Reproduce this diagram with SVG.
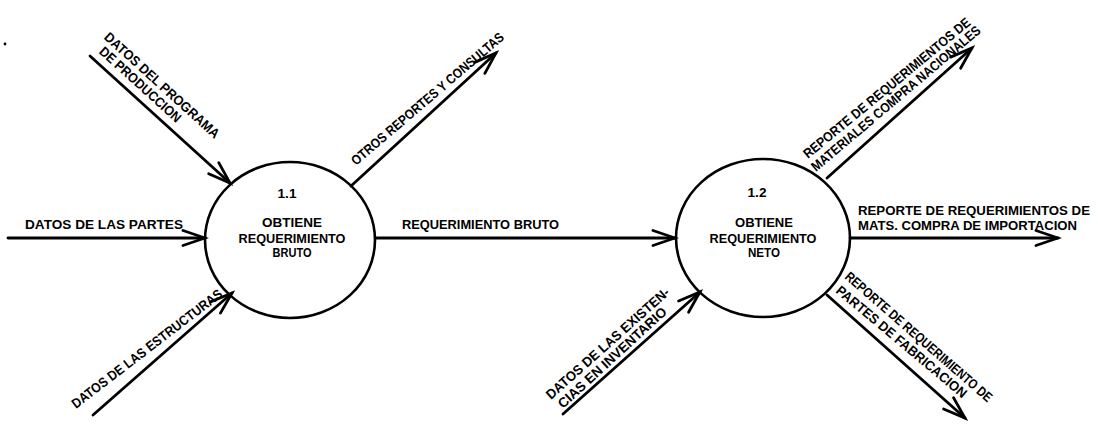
<svg xmlns="http://www.w3.org/2000/svg" width="1098" height="426" viewBox="0 0 1098 426">
  <style>
    .bg { fill: #ffffff; }
    .proc { fill: none; stroke: #000; stroke-width: 2.6; }
    .flow { fill: none; stroke: #000; stroke-width: 2.8; stroke-linecap: round; marker-end: url(#arrow); }
    text { font-family: "Liberation Sans", Arial, sans-serif; font-size: 13.6px; font-weight: bold; fill: #000; }
    .c { text-anchor: middle; }
  </style>
  <defs>
    <marker id="arrow" markerUnits="userSpaceOnUse" markerWidth="30" markerHeight="24" viewBox="-26 -12 30 24" refX="0" refY="0" orient="auto">
      <path d="M -22 -7.5 L 0 0 L -22 7.5" fill="none" stroke="#000" stroke-width="2.8" stroke-linecap="round" stroke-linejoin="miter"/>
    </marker>
  </defs>
  <rect class="bg" x="0" y="0" width="1098" height="426"/>
  <circle cx="5" cy="44" r="1.4" fill="#000"/>

  <g id="connectors">
    <g id="f-partes">
      <line class="flow" x1="8" y1="238" x2="205" y2="238"/>
      <text x="25" y="229" textLength="158" lengthAdjust="spacingAndGlyphs">DATOS DE LAS PARTES</text>
    </g>
    <g id="f-bruto">
      <line class="flow" x1="376" y1="238" x2="675" y2="238"/>
      <text x="402" y="229" textLength="157" lengthAdjust="spacingAndGlyphs">REQUERIMIENTO BRUTO</text>
    </g>
    <g id="f-importacion">
      <line class="flow" x1="850" y1="238" x2="1058" y2="238"/>
      <text x="858" y="215" textLength="232" lengthAdjust="spacingAndGlyphs">REPORTE DE REQUERIMIENTOS DE</text>
      <text x="858" y="230" textLength="219" lengthAdjust="spacingAndGlyphs">MATS. COMPRA DE IMPORTACION</text>
    </g>
    <g id="f-programa">
      <line class="flow" x1="90" y1="56" x2="230" y2="183"/>
      <g transform="translate(90,56) rotate(42.2)">
        <text x="-2" y="-22" textLength="150" lengthAdjust="spacingAndGlyphs">DATOS DEL PROGRAMA</text>
        <text x="4" y="-8" textLength="105" lengthAdjust="spacingAndGlyphs">DE PRODUCCION</text>
      </g>
    </g>
    <g id="f-otros">
      <line class="flow" x1="351" y1="186" x2="496" y2="53"/>
      <text transform="translate(356,166) rotate(-40.5)" textLength="196" lengthAdjust="spacingAndGlyphs">OTROS REPORTES Y CONSULTAS</text>
    </g>
    <g id="f-estructuras">
      <line class="flow" x1="93" y1="415" x2="232" y2="293"/>
      <text transform="translate(76,409) rotate(-37.5)" textLength="186" lengthAdjust="spacingAndGlyphs">DATOS DE LAS ESTRUCTURAS</text>
    </g>
    <g id="f-existencias">
      <line class="flow" x1="563" y1="414" x2="700" y2="292"/>
      <text transform="translate(551,400) rotate(-41.7)" textLength="160" lengthAdjust="spacingAndGlyphs">DATOS DE LAS EXISTEN-</text>
      <text transform="translate(563,409) rotate(-42.5)" textLength="142" lengthAdjust="spacingAndGlyphs">CIAS EN INVENTARIO</text>
    </g>
    <g id="f-nacionales">
      <line class="flow" x1="827" y1="178" x2="972" y2="48"/>
      <text transform="translate(808,159) rotate(-39.5)" textLength="212" lengthAdjust="spacingAndGlyphs">REPORTE DE REQUERIMIENTOS DE</text>
      <text transform="translate(816,172) rotate(-40.2)" textLength="217" lengthAdjust="spacingAndGlyphs">MATERIALES COMPRA NACIONALES</text>
    </g>
    <g id="f-fabricacion">
      <line class="flow" x1="827" y1="295" x2="965" y2="418"/>
      <text transform="translate(844,278) rotate(41)" textLength="190" lengthAdjust="spacingAndGlyphs">REPORTE DE REQUERIMIENTO DE</text>
      <text transform="translate(835,292) rotate(40)" textLength="166" lengthAdjust="spacingAndGlyphs">PARTES DE FABRICACION</text>
    </g>
  </g>

  <g id="p1-1">
    <ellipse class="proc" cx="290" cy="240" rx="85" ry="78"/>
    <text class="c" x="287" y="198">1.1</text>
    <text class="c" x="292" y="227" textLength="60" lengthAdjust="spacingAndGlyphs">OBTIENE</text>
    <text class="c" x="292" y="243" textLength="107" lengthAdjust="spacingAndGlyphs">REQUERIMIENTO</text>
    <text class="c" x="292" y="257" textLength="39" lengthAdjust="spacingAndGlyphs">BRUTO</text>
  </g>

  <g id="p1-2">
    <ellipse class="proc" cx="763" cy="238" rx="87" ry="79"/>
    <text class="c" x="757" y="197">1.2</text>
    <text class="c" x="764" y="227" textLength="58" lengthAdjust="spacingAndGlyphs">OBTIENE</text>
    <text class="c" x="763" y="243" textLength="107" lengthAdjust="spacingAndGlyphs">REQUERIMIENTO</text>
    <text class="c" x="764" y="257" textLength="32" lengthAdjust="spacingAndGlyphs">NETO</text>
  </g>
</svg>
